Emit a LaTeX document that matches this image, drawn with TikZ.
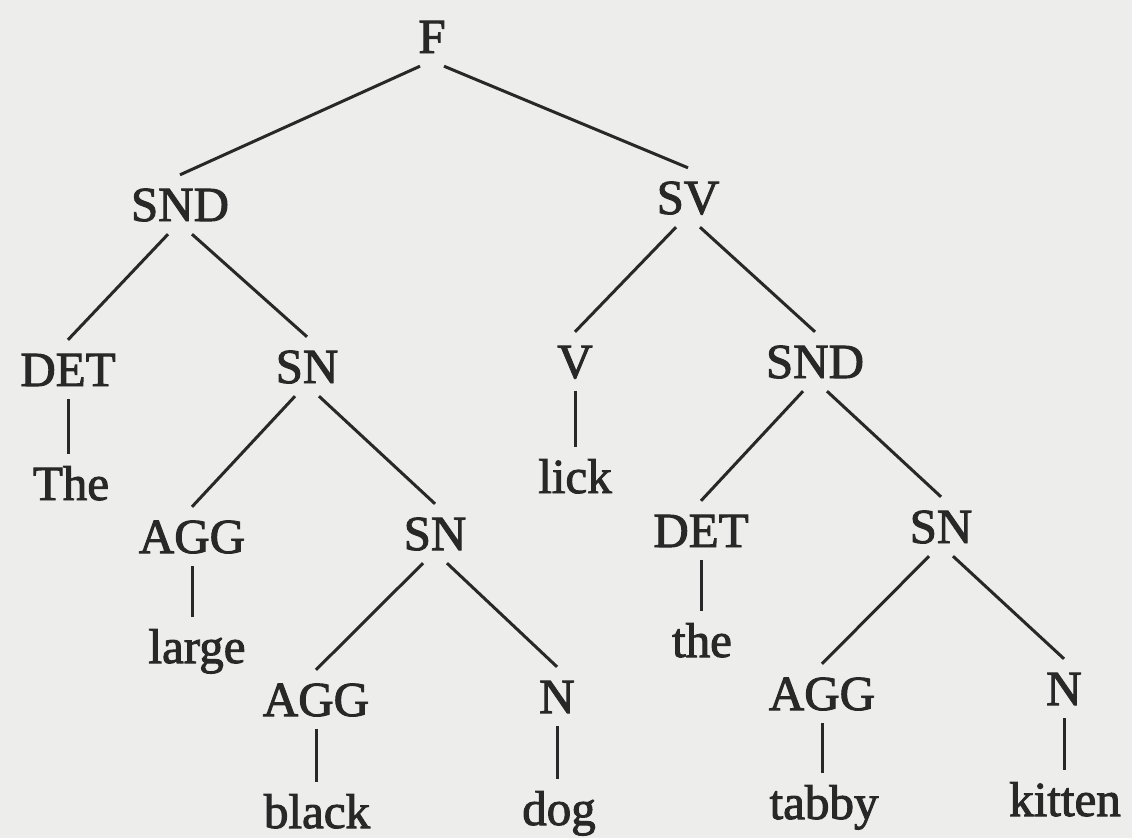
\documentclass[tikz,border=0pt]{standalone}
\usepackage{fontspec}
\setmainfont{Liberation Serif}
\newfontfamily\treefont{Liberation Serif}[FakeBold=2]
\definecolor{paper}{RGB}{237,237,235}
\definecolor{ink}{RGB}{40,40,40}
\begin{document}
\begin{tikzpicture}[x=1pt,y=-1pt,
  lab/.style={anchor=base, inner xsep=0pt, inner ysep=13pt,
    text height=33pt, text depth=0pt, text=ink,
    font=\treefont\fontsize{49}{58}\selectfont},
  branch/.style={draw=ink, line width=3pt}]
% page
\useasboundingbox (0,0) rectangle (1132,838);
\fill[paper] (0,0) rectangle (1132,838);

% categories and words
\node[lab] (F)     at (432,53)  {F};
\node[lab] (SND)   at (180,221) {SND};
\node[lab] (SV)    at (688,214) {SV};
\node[lab] (DET)   at (68,386)  {DET};
\node[lab] (SN)    at (307,383) {SN};
\node[lab] (V)     at (575,378) {V};
\node[lab] (SNDb)  at (815,378) {SND};
\node[lab] (The)   at (71,500)  {The};
\node[lab] (lick)  at (575,493) {lick};
\node[lab] (AGGa)  at (192,553) {AGG};
\node[lab] (SNb)   at (435,550) {SN};
\node[lab] (DETb)  at (701,547) {DET};
\node[lab] (SNc)   at (941,543) {SN};
\node[lab] (large) at (197,663) {large};
\node[lab] (the)   at (702,657) {the};
\node[lab] (AGGb)  at (316,716) {AGG};
\node[lab] (N)     at (557,713) {N};
\node[lab] (AGGc)  at (822,710) {AGG};
\node[lab] (Nb)    at (1064,705) {N};
\node[lab] (black) at (317,828) {black};
\node[lab] (dog)   at (559,825) {dog};
\node[lab] (tabby) at (824,819) {tabby};
\node[lab] (kitten) at (1065,816) {kitten};

% binary branches
\foreach \p/\l/\r in {F/SND/SV, SND/DET/SN, SV/V/SNDb, SN/AGGa/SNb,
                      SNDb/DETb/SNc, SNb/AGGb/N, SNc/AGGc/Nb} {
  \draw[branch] ([xshift=-12pt]\p.south) -- (\l.north);
  \draw[branch] ([xshift=12pt]\p.south) -- (\r.north);
}

% unary branches down to the words
\foreach \p/\c in {DET/The, V/lick, AGGa/large, DETb/the,
                   AGGb/black, N/dog, AGGc/tabby, Nb/kitten} {
  \draw[branch] (\p.south) -- (\p.south |- \c.north);
}
\end{tikzpicture}
\end{document}
